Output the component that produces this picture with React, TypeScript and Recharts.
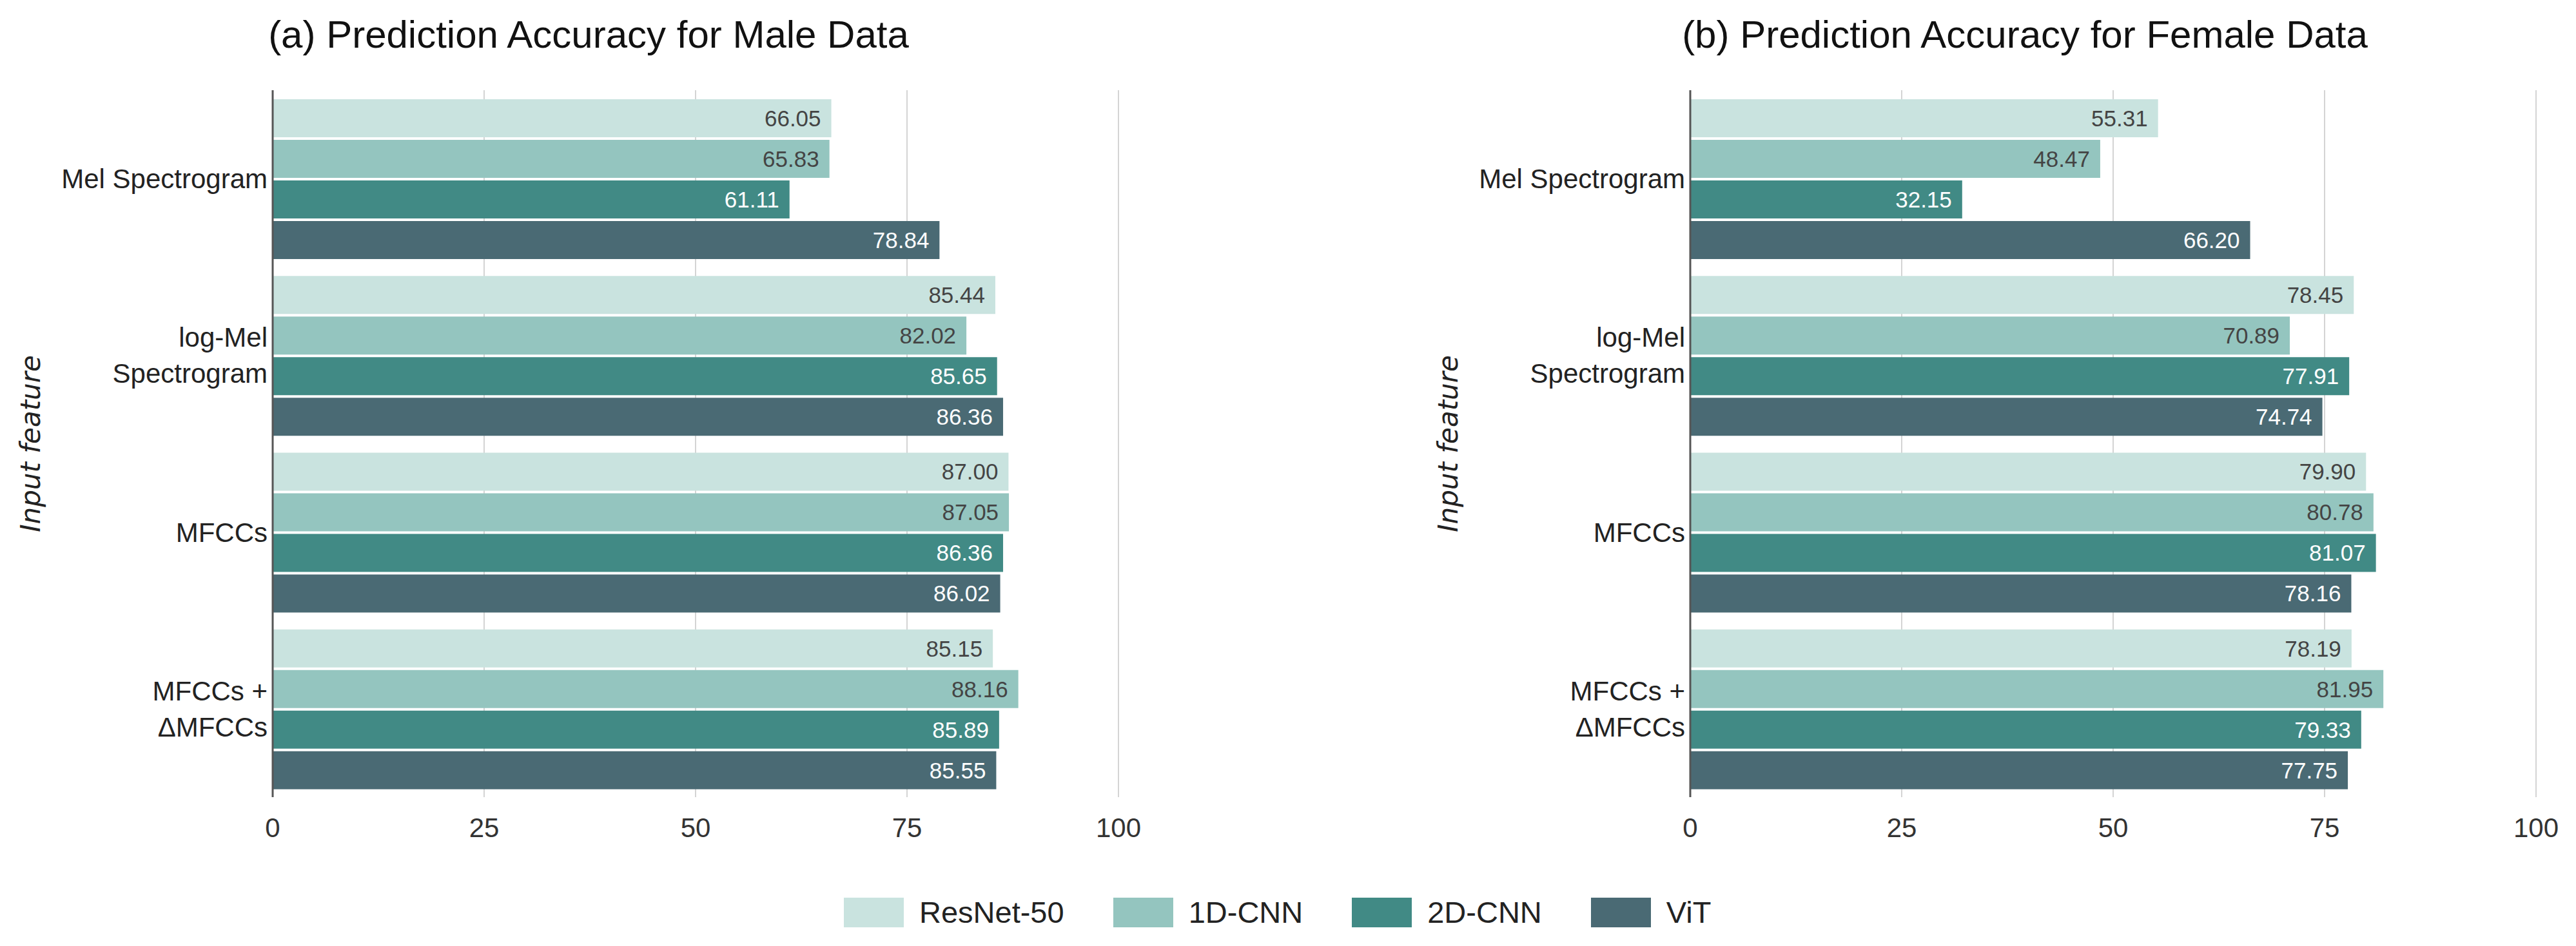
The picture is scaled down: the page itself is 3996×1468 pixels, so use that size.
import React from 'react';
import { Bar, BarChart, CartesianGrid, LabelList, XAxis, YAxis } from 'recharts';

const features = ['Mel Spectrogram', 'log-Mel\nSpectrogram', 'MFCCs', 'MFCCs +\n\u0394MFCCs'];

const models = ['ResNet-50', '1D-CNN', '2D-CNN', 'ViT'];
const modelKeys = ['resnet', 'cnn1d', 'cnn2d', 'vit'];
const modelColors = ['#c9e3df', '#94c5bf', '#418a85', '#4a6a74'];
const labelColors = ['#444444', '#444444', '#ffffff', '#ffffff'];

// rows = feature, columns = model
const maleAcc = [
	[66.05, 65.83, 61.11, 78.84],
	[85.44, 82.02, 85.65, 86.36],
	[87.0, 87.05, 86.36, 86.02],
	[85.15, 88.16, 85.89, 85.55],
];
const femaleAcc = [
	[55.31, 48.47, 32.15, 66.2],
	[78.45, 70.89, 77.91, 74.74],
	[79.9, 80.78, 81.07, 78.16],
	[78.19, 81.95, 79.33, 77.75],
];

const xTicks = [0, 25, 50, 75, 100];

const FONT = '"Liberation Sans", Arial, sans-serif';

const toRows = (acc: number[][]) =>
	features.map((f, i) => {
		const row: any = { feature: f };
		modelKeys.forEach((k, j) => (row[k] = acc[i][j]));
		return row;
	});

const CategoryTick = (props: any) => {
	const { x, y, payload } = props;
	const lines = String(payload.value).split('\n');
	return (
		<text x={x} y={y} textAnchor='end' fill='#222' fontSize={42} fontFamily={FONT}>
			{lines.map((l, i) => (
				<tspan key={i} x={x} y={y + (i - (lines.length - 1) / 2) * 56 + 15}>
					{l}
				</tspan>
			))}
		</text>
	);
};

const AccuracyChart = ({ acc }: { acc: number[][] }) => {
	const data = toRows(acc);
	return (
		<BarChart
			width={1790}
			height={1340}
			data={data}
			layout='vertical'
			margin={{ top: 140, right: 55, bottom: 0, left: 0 }}
			barCategoryGap={14}
			barGap={4}
		>
			<CartesianGrid horizontal={false} stroke='#d4d4d4' strokeWidth={2} />
			<XAxis
				type='number'
				domain={[0, 100]}
				ticks={xTicks}
				axisLine={false}
				tickLine={false}
				tickSize={0}
				tickMargin={32}
				height={103}
				tick={{ fontSize: 42, fill: '#333', fontFamily: FONT }}
			/>
			<YAxis
				type='category'
				dataKey='feature'
				width={423}
				axisLine={{ stroke: '#555', strokeWidth: 3 }}
				tickLine={false}
				tickSize={0}
				tickMargin={8}
				tick={<CategoryTick />}
				label={{
					value: 'Input feature',
					angle: -90,
					position: 'insideLeft',
					offset: 47,
					style: {
						textAnchor: 'middle',
						fontSize: 42,
						fontStyle: 'italic',
						fontFamily: '"DejaVu Sans", sans-serif',
						fill: '#222',
					},
				}}
			/>
			{modelKeys.map((k, j) => (
				<Bar key={k} dataKey={k} name={models[j]} fill={modelColors[j]} isAnimationActive={false}>
					<LabelList
						dataKey={k}
						position='insideRight'
						offset={16}
						formatter={(v: any) => Number(v).toFixed(2)}
						fill={labelColors[j]}
						fontSize={35}
						fontFamily={FONT}
					/>
				</Bar>
			))}
		</BarChart>
	);
};

const titleStyle: React.CSSProperties = {
	position: 'absolute',
	top: 24,
	transform: 'translateX(-50%)',
	whiteSpace: 'nowrap',
	fontFamily: FONT,
	fontSize: 60,
	lineHeight: '60px',
	color: '#111',
};

export default function App() {
	return (
		<div
			style={{
				position: 'absolute',
				left: 0,
				top: 0,
				width: 3996,
				height: 1468,
				background: '#fff',
				overflow: 'hidden',
			}}
		>
			<div style={{ ...titleStyle, left: 913 }}>(a) Prediction Accuracy for Male Data</div>
			<div style={{ ...titleStyle, left: 3141 }}>(b) Prediction Accuracy for Female Data</div>

			<div style={{ position: 'absolute', left: 0, top: 0 }}>
				<AccuracyChart acc={maleAcc} />
			</div>
			<div style={{ position: 'absolute', left: 2199, top: 0 }}>
				<AccuracyChart acc={femaleAcc} />
			</div>

			{/* shared legend */}
			<div
				style={{
					position: 'absolute',
					left: 1309,
					top: 1393,
					display: 'flex',
					alignItems: 'center',
					gap: 76,
					fontFamily: FONT,
					fontSize: 47,
					color: '#222',
				}}
			>
				{models.map((m, j) => (
					<div key={m} style={{ display: 'flex', alignItems: 'center', gap: 24 }}>
						<div style={{ width: 93, height: 46, background: modelColors[j] }} />
						<span style={{ lineHeight: '46px' }}>{m}</span>
					</div>
				))}
			</div>
		</div>
	);
}
